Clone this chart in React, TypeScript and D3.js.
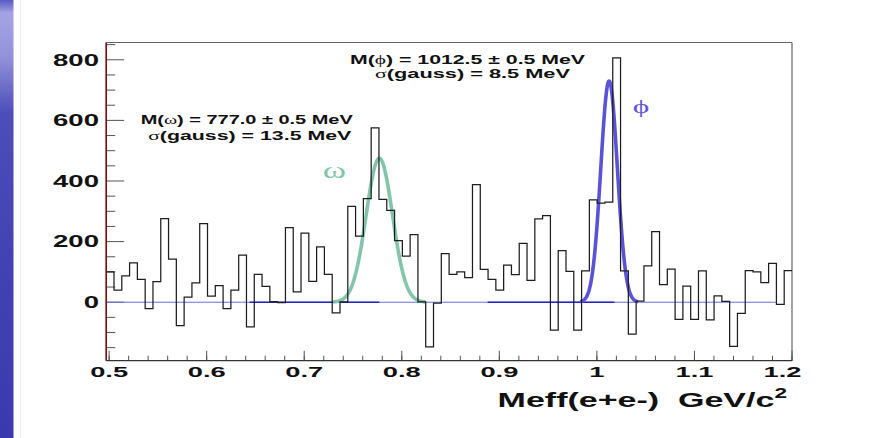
import React from 'react';
import * as d3 from 'd3';

// Axis ranges: invariant mass in GeV/c^2, counts per bin
const X_MIN = 0.497;
const X_MAX = 1.2;
const Y_MIN = -193;
const Y_MAX = 857;

// Background-subtracted e+e- invariant mass spectrum, 88 equal bins over [X_MIN, X_MAX]
const binCounts = [
  100, 40, 87, 130, 75, -21, 68, 276, 142, -77,
  17, 64, 259, 20, 55, -21, 40, 155, -81, 92,
  52, 2, -1, 246, 34, 228, 69, 183, 92, -35,
  1, 316, 218, 342, 575, 339, 303, 203, 152, 223,
  1, -147, -3, 160, 92, 100, 81, 388, 108, 75,
  40, 122, 91, 194, 72, 275, 286, -92, 170, 102,
  -92, 103, 338, 327, 330, 806, 103, -105, 4, 120,
  233, 58, 109, -57, 53, -57, 103, -58, 21, 3,
  -146, -37, 104, 100, 65, 128, -7, 104,
];

// Gaussian fits to the two vector-meson peaks
const peakNames = ['ω', 'ϕ'];
const peakMassMeV = [777.0, 1012.5];
const peakMassErrMeV = [0.5, 0.5];
const peakSigmaMeV = [13.5, 8.5];
const peakHeights = [475, 730];
const peakColors = ['#82c6a9', '#5a52d8'];

// Flat background (zero) over each fit window, and the overall zero line
const bgFitRanges: [number, number][] = [[0.644, 0.777], [0.888, 1.018]];
const zeroLineEnd = 1.1835;

// Axis ticks
const xTickValues = [0.5, 0.6, 0.7, 0.8, 0.9, 1.0, 1.1, 1.2];
const xTickLabels = ['0.5', '0.6', '0.7', '0.8', '0.9', '1', '1.1', '1.2'];
const yTickValues = [0, 200, 400, 600, 800];
const yTickLabels = ['0', '200', '400', '600', '800'];
const xAxisTitle = 'Meff(e+e-)  GeV/c';
const xAxisTitleSup = '2';

const SANS = "'Liberation Sans', Arial, Helvetica, sans-serif";
const SERIF = "'Liberation Serif', 'Times New Roman', serif";

// Render a string, putting Greek letters in a serif face
function withGreek(s: string) {
  const parts: React.ReactNode[] = [];
  let buf = '';
  Array.from(s).forEach((ch, i) => {
    if (/[\u0370-\u03ff]/.test(ch)) {
      if (buf) parts.push(buf);
      buf = '';
      parts.push(
        <tspan key={i} fontFamily={SERIF} fontWeight="normal">
          {ch}
        </tspan>
      );
    } else {
      buf += ch;
    }
  });
  if (buf) parts.push(buf);
  return parts;
}

export default function App() {
  const W = 884;
  const H = 438;
  const plot = { left: 106.2, right: 792, top: 42.5, bottom: 360.7 };

  const x = d3.scaleLinear().domain([X_MIN, X_MAX]).range([plot.left, plot.right]);
  const y = d3.scaleLinear().domain([Y_MIN, Y_MAX]).range([plot.bottom, plot.top]);

  const nBins = binCounts.length;
  const binW = (X_MAX - X_MIN) / nBins;
  const histPts: [number, number][] = binCounts.map((c, i) => [X_MIN + i * binW, c]);
  histPts.push([X_MAX, binCounts[nBins - 1]]);
  const histPath =
    d3
      .line<[number, number]>()
      .x((d) => x(d[0]))
      .y((d) => y(d[1]))
      .curve(d3.curveStepAfter)(histPts) || '';

  const gaussPaths = peakMassMeV.map((m, k) => {
    const mean = m / 1000;
    const sigma = peakSigmaMeV[k] / 1000;
    const lo = mean - 3.5 * sigma;
    const hi = mean + 3.5 * sigma;
    const pts: [number, number][] = d3.range(0, 161).map((j) => {
      const v = lo + ((hi - lo) * j) / 160;
      return [v, peakHeights[k] * Math.exp(-0.5 * ((v - mean) / sigma) ** 2)];
    });
    return (
      d3
        .line<[number, number]>()
        .x((d) => x(d[0]))
        .y((d) => y(d[1]))(pts) || ''
    );
  });

  const yMinor = d3.range(-150, Y_MAX, 50).filter((v) => v % 200 !== 0);
  const xMinor = d3.range(25, 61).map((k) => k * 0.02).filter((v) => v <= X_MAX + 1e-9);

  const statLines = peakMassMeV.map((m, k) => [
    `M(${peakNames[k]}) = ${m.toFixed(1)} ± ${peakMassErrMeV[k].toFixed(1)} MeV`,
    `σ(gauss) = ${peakSigmaMeV[k].toFixed(1)} MeV`,
  ]);
  // text placement per peak: [x, baseline, width] for each line
  const statPlace = [
    [
      [140.7, 124, 212],
      [148.3, 139.8, 203],
    ],
    [
      [350, 63.8, 235],
      [375, 77.8, 195],
    ],
  ];
  const peakLabelPlace = [
    { x: 322.7, y: 178.3, w: 23.3, size: 24 },
    { x: 632.7, y: 112.5, w: 16.6, size: 19 },
  ];

  return (
    <svg
      width={W}
      height={H}
      viewBox={`0 0 ${W} ${H}`}
      style={{ position: 'absolute', left: 0, top: 0, display: 'block', background: '#fff' }}
    >
      <defs>
        <linearGradient id="strip" x1="0" y1="0" x2="0" y2="1">
          <stop offset="0" stopColor="#5a5ac4" />
          <stop offset="0.03" stopColor="#a4a4e4" />
          <stop offset="0.13" stopColor="#9292da" />
          <stop offset="0.26" stopColor="#4c4cba" />
          <stop offset="0.6" stopColor="#4242b4" />
          <stop offset="1" stopColor="#3a3aae" />
        </linearGradient>
        <clipPath id="plotClip">
          <rect x={plot.left} y={plot.top} width={plot.right - plot.left} height={plot.bottom - plot.top} />
        </clipPath>
      </defs>

      <rect x={0} y={0} width={W} height={H} fill="#ffffff" />
      <rect x={0} y={0} width={13.5} height={H} fill="url(#strip)" />
      <line x1={20.5} y1={0} x2={20.5} y2={H} stroke="#ececf2" strokeWidth={1} />

      {/* frame */}
      <line x1={plot.left} y1={plot.top} x2={plot.right} y2={plot.top} stroke="#666" strokeWidth={1.2} />
      <line x1={plot.right} y1={plot.top} x2={plot.right} y2={plot.bottom} stroke="#666" strokeWidth={1.2} />

      {/* y ticks */}
      {yTickValues.map((v) => (
        <line key={'ym' + v} x1={plot.left} x2={plot.left + 18} y1={y(v)} y2={y(v)} stroke="#555" strokeWidth={1} />
      ))}
      {yMinor.map((v) => (
        <line key={'yn' + v} x1={plot.left} x2={plot.left + 9} y1={y(v)} y2={y(v)} stroke="#555" strokeWidth={1} />
      ))}
      {/* x ticks */}
      {xTickValues.map((v) => (
        <line key={'xm' + v} x1={x(v)} x2={x(v)} y1={plot.bottom} y2={plot.bottom - 10} stroke="#555" strokeWidth={1} />
      ))}
      {xMinor.map((v, i) => (
        <line key={'xn' + i} x1={x(v)} x2={x(v)} y1={plot.bottom} y2={plot.bottom - 5} stroke="#555" strokeWidth={1} />
      ))}

      <g clipPath="url(#plotClip)">
        {/* zero line and background over fit windows */}
        <line x1={x(X_MIN)} x2={x(zeroLineEnd)} y1={y(0)} y2={y(0)} stroke="#6470e0" strokeWidth={1} />
        {bgFitRanges.map((r, i) => (
          <line key={'bg' + i} x1={x(r[0])} x2={x(r[1])} y1={y(0)} y2={y(0)} stroke="#2424c8" strokeWidth={1.6} />
        ))}

        {/* gaussian fits */}
        {gaussPaths.map((p, k) => (
          <path key={'g' + k} d={p} fill="none" stroke={peakColors[k]} strokeWidth={3.6} strokeLinejoin="round" />
        ))}

        {/* histogram */}
        <path d={histPath} fill="none" stroke="#1e1e1e" strokeWidth={1.25} />
      </g>

      {/* axes lines */}
      <line x1={plot.left} y1={plot.bottom} x2={plot.right} y2={plot.bottom} stroke="#333" strokeWidth={1.3} />
      <line x1={plot.left} y1={plot.top} x2={plot.left} y2={plot.bottom} stroke="#7a1414" strokeWidth={1.7} />

      {/* y tick labels */}
      {yTickValues.map((v, i) => (
        <text
          key={'yl' + v}
          transform={`translate(${99},${y(v) + 5.8}) scale(1.69,1)`}
          textAnchor="end"
          fontFamily={SANS}
          fontWeight="bold"
          fontSize={16.3}
          fill="#111"
        >
          {yTickLabels[i]}
        </text>
      ))}

      {/* x tick labels */}
      {xTickValues.map((v, i) => (
        <text
          key={'xl' + v}
          transform={`translate(${x(v) + (i === xTickValues.length - 1 ? -9.5 : 0)},${377}) scale(1.77,1)`}
          textAnchor="middle"
          fontFamily={SANS}
          fontWeight="bold"
          fontSize={15.4}
          fill="#111"
        >
          {xTickLabels[i]}
        </text>
      ))}

      {/* x axis title */}
      <text
        transform={`translate(${787},${406.7}) scale(1.62,1)`}
        textAnchor="end"
        fontFamily={SANS}
        fontWeight="bold"
        fontSize={21}
        fill="#111"
        style={{ whiteSpace: 'pre' }}
      >
        {xAxisTitle}
        <tspan dy={-8.7} fontSize={14}>
          {xAxisTitleSup}
        </tspan>
      </text>

      {/* fit results */}
      {statLines.map((lines, k) =>
        lines.map((s, j) => {
          const [tx, ty, tw] = statPlace[k][j];
          return (
            <text
              key={'st' + k + j}
              x={tx}
              y={ty}
              textLength={tw}
              lengthAdjust="spacingAndGlyphs"
              fontFamily={SANS}
              fontWeight="bold"
              fontSize={12.5}
              fill="#111"
              style={{ whiteSpace: 'pre' }}
            >
              {withGreek(s)}
            </text>
          );
        })
      )}

      {/* peak names */}
      {peakNames.map((n, k) => (
        <text
          key={'pn' + k}
          x={peakLabelPlace[k].x}
          y={peakLabelPlace[k].y}
          textLength={peakLabelPlace[k].w}
          lengthAdjust="spacingAndGlyphs"
          fontFamily={SERIF}
          fontSize={peakLabelPlace[k].size}
          fill={peakColors[k]}
        >
          {n}
        </text>
      ))}
    </svg>
  );
}
